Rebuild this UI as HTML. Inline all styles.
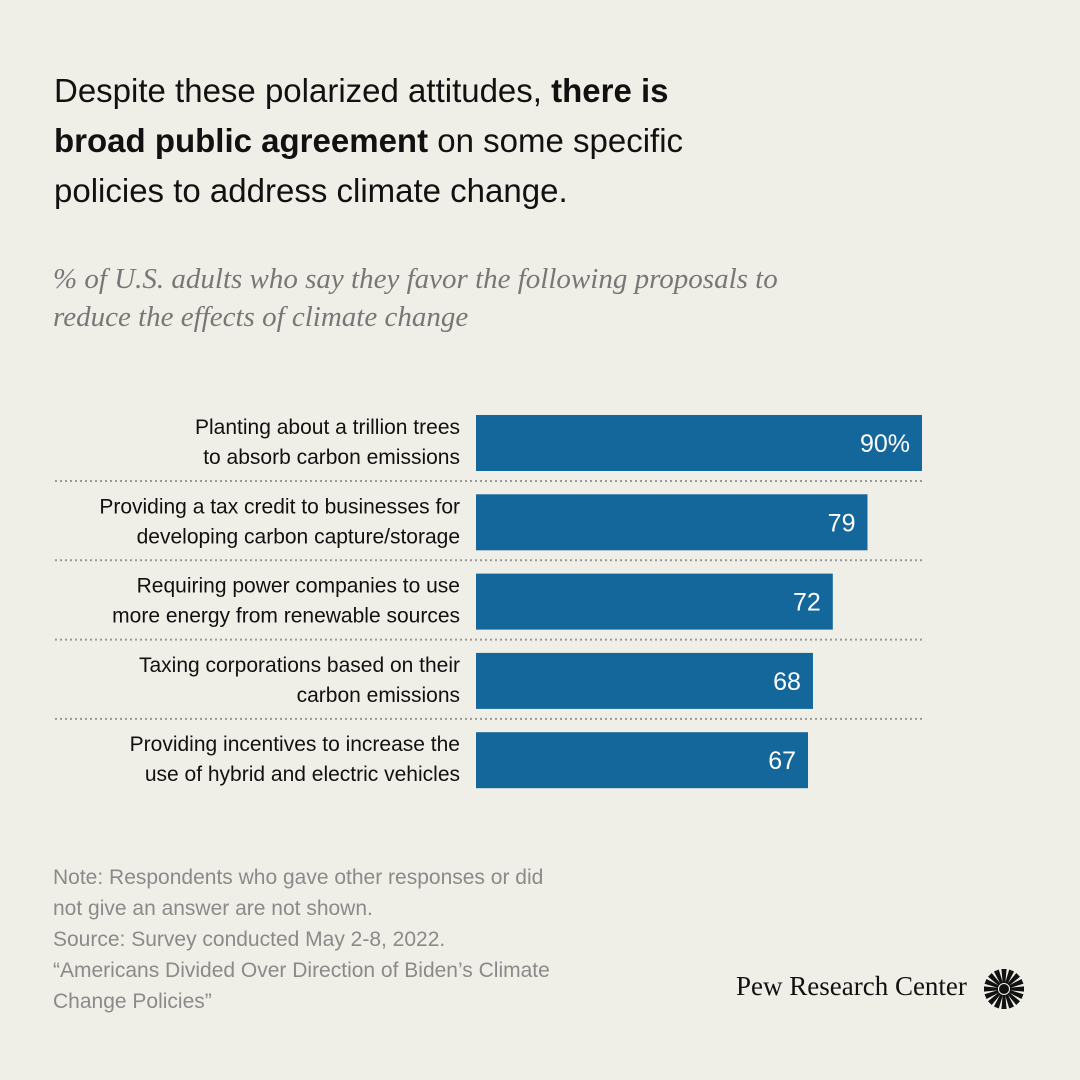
<!DOCTYPE html>
<html><head><meta charset="utf-8">
<style>
body{margin:0;background:#f0efe7;}
#page{position:relative;width:1080px;height:1080px;background:#f0efe7;overflow:hidden;font-family:"Liberation Sans",sans-serif;}
#title{position:absolute;left:54px;top:66px;width:680px;font-size:33px;line-height:50px;color:#111;}
#subtitle{position:absolute;left:53px;top:260px;width:800px;font-family:"Liberation Serif",serif;font-style:italic;font-size:29px;line-height:38px;color:#777;}
#notes{position:absolute;left:53px;top:862px;width:515px;font-size:21px;line-height:31px;color:#8a8a8a;}
#logo{position:absolute;left:736px;top:971px;font-family:"Liberation Serif",serif;font-size:27px;color:#111;}
svg{position:absolute;left:0;top:0;}
</style></head><body>
<div id="page">
<div id="title">Despite these polarized attitudes, <b>there is broad public agreement</b> on some specific policies to address climate change.</div>
<div id="subtitle">% of U.S. adults who say they favor the following proposals to reduce the effects of climate change</div>
<svg id="chart" width="1080" height="1080"></svg>
<div id="notes">Note: Respondents who gave other responses or did not give an answer are not shown.<br>Source: Survey conducted May 2-8, 2022.<br>“Americans Divided Over Direction of Biden’s Climate Change Policies”</div>
<div id="logo">Pew Research Center</div>
<svg width="1080" height="1080" style="pointer-events:none">
<g id="sun" transform="translate(1004,989)"></g>
</svg>
</div>
<script>
const categories=[["Planting about a trillion trees","to absorb carbon emissions"],["Providing a tax credit to businesses for","developing carbon capture/storage"],["Requiring power companies to use","more energy from renewable sources"],["Taxing corporations based on their","carbon emissions"],["Providing incentives to increase the","use of hybrid and electric vehicles"]];
const values=[90,79,72,68,67];
const valueLabels=["90%","79","72","68","67"];
const NS="http://www.w3.org/2000/svg";
const svg=document.getElementById('chart');
const x0=476,scale=446/90,top0=415,pitch=79.3,bh=56;
const xPos=v=>x0+v*scale;
const yPos=i=>top0+i*pitch;
function mk(t,a){const e=document.createElementNS(NS,t);for(const k in a)e.setAttribute(k,a[k]);svg.appendChild(e);return e;}
values.forEach((v,i)=>{
  const y=yPos(i);
  const r=mk('rect',{x:x0,y:y,width:xPos(v)-x0,height:bh,fill:'#14679b'});
  
  
  const t=mk('text',{x:xPos(v)-12,y:y+37,'text-anchor':'end','font-size':25,fill:'#fff','font-family':'Liberation Sans,sans-serif'});
  t.textContent=valueLabels[i];
  
  
  categories[i].forEach((ln,j)=>{
    const c=mk('text',{x:460,y:y+19+j*30,'text-anchor':'end','font-size':21,fill:'#111','font-family':'Liberation Sans,sans-serif'});
    c.textContent=ln;
    
    
  });
  if(i<values.length-1){
    const l=mk('line',{x1:55,x2:925,y1:y+bh+10,y2:y+bh+10,stroke:'#999','stroke-width':2,'stroke-dasharray':'2 3'});
    
    
  }
});
const sun=document.getElementById('sun');
for(let k=0;k<16;k++){
  const a=k*22.5;
  const p=document.createElementNS(NS,'path');
  p.setAttribute('d','M-1.3,-6 L1.3,-6 L2.6,-20 L-2.6,-20 Z');
  p.setAttribute('fill','#111');
  p.setAttribute('transform','rotate('+a+')');
  sun.appendChild(p);
}
const cc=document.createElementNS(NS,'circle');cc.setAttribute('r',5);cc.setAttribute('fill','#111');sun.appendChild(cc);
</script>
</body></html>
